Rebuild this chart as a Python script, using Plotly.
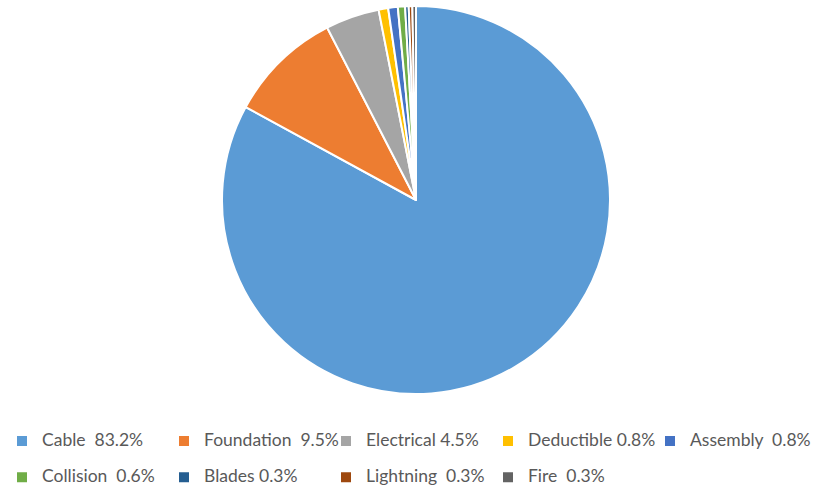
import plotly.graph_objects as go

categories = ["Cable", "Foundation", "Electrical", "Deductible", "Assembly",
              "Collision", "Blades", "Lightning", "Fire"]
shares = [83.2, 9.5, 4.5, 0.8, 0.8, 0.6, 0.3, 0.3, 0.3]
# spacing between name and value as printed in each legend entry
gaps = [2, 2, 1, 1, 2, 2, 1, 2, 2]
colors = ["#5B9BD5", "#ED7D31", "#A5A5A5", "#FFC000", "#4472C4",
          "#70AD47", "#255E91", "#9E480E", "#636363"]

LABEL_STYLE = "font-size:17.5px;baseline-shift:5px"
labels = [f"<span style='{LABEL_STYLE}'>{c}{chr(160) * g}{v:.1f}%</span>"
          for c, v, g in zip(categories, shares, gaps)]

W, H = 826, 487
cx, cy, r = 416, 200, 194

fig = go.Figure(go.Pie(
    labels=labels,
    values=shares,
    sort=False,
    direction="clockwise",
    rotation=0,
    marker=dict(colors=colors, line=dict(color="white", width=2)),
    textinfo="none",
    hoverinfo="label",
    domain=dict(x=[(cx - r) / W, (cx + r) / W],
                y=[1 - (cy + r) / H, 1 - (cy - r) / H]),
))

fig.update_layout(
    width=W, height=H,
    margin=dict(l=0, r=0, t=0, b=0, autoexpand=False),
    paper_bgcolor="white",
    showlegend=True,
    legend=dict(
        orientation="h",
        x=2 / W, y=1 - 418 / H,
        xanchor="left", yanchor="top",
        entrywidth=117, entrywidthmode="pixels",
        itemwidth=30,
        # large base size sets the row pitch; the span sets the visible text size
        font=dict(family="Lato, Open Sans, sans-serif", size=25.5, color="#595959"),
        traceorder="normal",
    ),
)

fig.write_html("out.html")
